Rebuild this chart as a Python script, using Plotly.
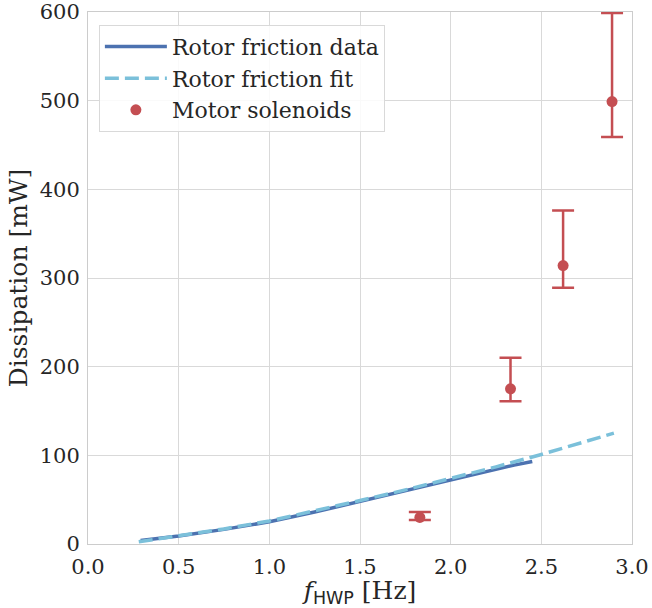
import plotly.graph_objects as go

# Rotor friction data
data_f = [0.29, 0.4, 0.5, 0.75, 1.0, 1.25, 1.5, 1.75, 2.0, 2.15, 2.25, 2.35, 2.45]
data_p = [4.0, 6.5, 9.0, 16.5, 25.0, 36.0, 48.0, 61.0, 73.0, 80.0, 85.0, 89.0, 93.0]

# Rotor friction fit
fit_f = [0.28, 0.4, 0.5, 0.75, 1.0, 1.25, 1.5, 1.75, 2.0, 2.25, 2.5, 2.75, 2.9]
fit_p = [2.5, 6.0, 9.0, 17.0, 26.0, 37.0, 49.0, 61.0, 74.0, 87.0, 101.0, 116.0, 125.0]

# Motor solenoids
sol_f = [1.83, 2.33, 2.62, 2.89]
sol_p = [30.0, 175.0, 314.0, 499.0]
sol_err_plus = [6.0, 35.0, 62.0, 100.0]
sol_err_minus = [3.0, 14.0, 25.0, 40.0]

x_ticks = [0, 0.5, 1.0, 1.5, 2.0, 2.5, 3.0]
x_ticktext = ["0.0", "0.5", "1.0", "1.5", "2.0", "2.5", "3.0"]
y_ticks = [0, 100, 200, 300, 400, 500, 600]

BLUE = "#4C72B0"
CYAN = "#7BC0DA"
RED = "#C44E52"
FONT = "DejaVu Serif"
TXT = "#262626"

fig = go.Figure()
fig.add_trace(go.Scatter(x=data_f, y=data_p, mode="lines", name="Rotor friction data",
                         line=dict(color=BLUE, width=3.5)))
fig.add_trace(go.Scatter(x=fit_f, y=fit_p, mode="lines", name="Rotor friction fit",
                         line=dict(color=CYAN, width=3.5, dash="14px,6px")))
fig.add_trace(go.Scatter(x=sol_f, y=sol_p, mode="markers", name="Motor solenoids",
                         marker=dict(color=RED, size=11),
                         error_y=dict(type="data", symmetric=False, array=sol_err_plus,
                                      arrayminus=sol_err_minus, color=RED,
                                      thickness=2.5, width=11)))

fig.update_layout(
    width=652, height=608,
    margin=dict(l=88, r=20, t=12, b=64, autoexpand=False),
    paper_bgcolor="white", plot_bgcolor="white",
    font=dict(family=FONT, size=21, color=TXT),
    showlegend=True,
    legend=dict(x=0.02, y=0.976, xanchor="left", yanchor="top",
                bgcolor="rgba(255,255,255,0.85)", bordercolor="#d9d9d9", borderwidth=1,
                font=dict(family=FONT, size=22, color=TXT),
                itemwidth=62, tracegroupgap=0),
)
fig.update_xaxes(range=[0, 3.0], tickvals=x_ticks, ticktext=x_ticktext,
                 automargin=False, ticklabeloverflow="allow",
                 showgrid=True, gridcolor="#d9d9d9", gridwidth=1,
                 showline=True, linecolor="#cccccc", linewidth=1, mirror=True,
                 zeroline=False, ticks="", tickfont=dict(size=21), ticklabelstandoff=4,
                 title=dict(text="<i>f</i><sub><span style='font-family:DejaVu Sans'>HWP</span></sub> [Hz]",
                            font=dict(size=25), standoff=2))
fig.update_yaxes(range=[0, 600], tickvals=y_ticks,
                 automargin=False, ticklabeloverflow="allow",
                 showgrid=True, gridcolor="#d9d9d9", gridwidth=1,
                 showline=True, linecolor="#cccccc", linewidth=1, mirror=True,
                 zeroline=False, ticks="", tickfont=dict(size=21), ticklabelstandoff=3,
                 title=dict(text="Dissipation [mW]", font=dict(size=25), standoff=4))

fig.write_html("out.html", config={"displayModeBar": False},
               post_script="document.body.style.margin='0';")
